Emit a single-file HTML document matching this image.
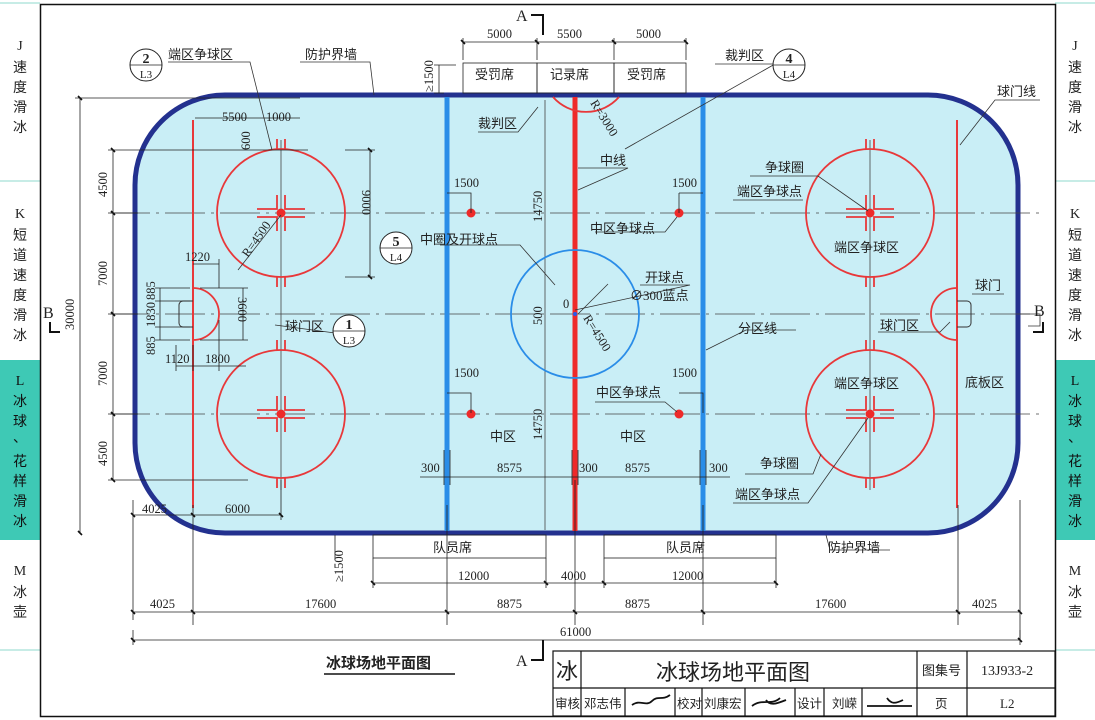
<!DOCTYPE html>
<html><head><meta charset="utf-8"><style>
html,body{margin:0;padding:0;background:#fff;}
svg{display:block;}
text{font-family:"Liberation Serif","Noto Sans CJK SC",serif;fill:#222;}
.c{font-family:"Liberation Sans","Noto Sans CJK SC",sans-serif;font-size:13px;}
.d{font-size:12.5px;}
.side{font-family:"Liberation Sans","Noto Sans CJK SC",sans-serif;font-size:14px;fill:#4cc6b4;text-anchor:middle;}
</style></head><body>
<svg width="1095" height="720" viewBox="0 0 1095 720" xmlns="http://www.w3.org/2000/svg">
<!-- sidebars -->
<g stroke="#8fd8cc" stroke-width="1">
<line x1="0" y1="3" x2="40" y2="3"/><line x1="0" y1="181" x2="40" y2="181"/><line x1="0" y1="650" x2="40" y2="650"/>
<line x1="1055" y1="3" x2="1095" y2="3"/><line x1="1055" y1="181" x2="1095" y2="181"/><line x1="1055" y1="650" x2="1095" y2="650"/>
</g>
<rect x="0" y="360" width="40" height="180" fill="#3ec9b5"/>
<rect x="1055" y="360" width="40" height="180" fill="#3ec9b5"/>
<g class="side">
<text x="20" y="50">J</text><text x="20" y="72">速</text><text x="20" y="92">度</text><text x="20" y="112">滑</text><text x="20" y="132">冰</text>
<text x="20" y="218">K</text><text x="20" y="240">短</text><text x="20" y="260">道</text><text x="20" y="280">速</text><text x="20" y="300">度</text><text x="20" y="320">滑</text><text x="20" y="340">冰</text>
<text x="20" y="385" style="fill:#111">L</text><text x="20" y="406" style="fill:#111">冰</text><text x="20" y="426" style="fill:#111">球</text><text x="20" y="442" style="fill:#111">、</text><text x="20" y="466" style="fill:#111">花</text><text x="20" y="486" style="fill:#111">样</text><text x="20" y="506" style="fill:#111">滑</text><text x="20" y="526" style="fill:#111">冰</text>
<text x="20" y="575">M</text><text x="20" y="597">冰</text><text x="20" y="617">壶</text>
<text x="1075" y="50">J</text><text x="1075" y="72">速</text><text x="1075" y="92">度</text><text x="1075" y="112">滑</text><text x="1075" y="132">冰</text>
<text x="1075" y="218">K</text><text x="1075" y="240">短</text><text x="1075" y="260">道</text><text x="1075" y="280">速</text><text x="1075" y="300">度</text><text x="1075" y="320">滑</text><text x="1075" y="340">冰</text>
<text x="1075" y="385" style="fill:#111">L</text><text x="1075" y="406" style="fill:#111">冰</text><text x="1075" y="426" style="fill:#111">球</text><text x="1075" y="442" style="fill:#111">、</text><text x="1075" y="466" style="fill:#111">花</text><text x="1075" y="486" style="fill:#111">样</text><text x="1075" y="506" style="fill:#111">滑</text><text x="1075" y="526" style="fill:#111">冰</text>
<text x="1075" y="575">M</text><text x="1075" y="597">冰</text><text x="1075" y="617">壶</text>
</g>
<!-- frame -->
<rect x="40.5" y="4.5" width="1015" height="712" fill="none" stroke="#111" stroke-width="1.5"/>

<!-- rink -->
<rect x="135" y="95" width="883" height="438" rx="90" ry="90" fill="#c9eef6" stroke="#23318f" stroke-width="5"/>

<!-- center/axis lines -->
<g stroke="#444" stroke-width="0.8" fill="none">
<line x1="110" y1="314" x2="1040" y2="314" stroke-dasharray="40 6 3 6"/>
<line x1="110" y1="213" x2="1040" y2="213" stroke-dasharray="40 6 3 6"/>
<line x1="110" y1="414" x2="1040" y2="414" stroke-dasharray="40 6 3 6"/>
<line x1="281" y1="140" x2="281" y2="490"/>
<line x1="870" y1="140" x2="870" y2="490"/>
<line x1="545" y1="100" x2="545" y2="530"/>
</g>

<!-- goal lines -->
<g stroke="#e8383a" stroke-width="2">
<line x1="193" y1="120" x2="193" y2="508"/>
<line x1="957" y1="120" x2="957" y2="508"/>
</g>
<!-- blue & red lines -->
<line x1="447" y1="97" x2="447" y2="531" stroke="#2a8de8" stroke-width="5"/>
<line x1="703" y1="97" x2="703" y2="531" stroke="#2a8de8" stroke-width="5"/>
<line x1="575" y1="97" x2="575" y2="531" stroke="#ee2a2a" stroke-width="5"/>

<!-- faceoff circles -->
<g fill="none" stroke="#e8383a" stroke-width="1.8">
<circle cx="281" cy="213" r="64"/><circle cx="281" cy="414" r="64"/>
<circle cx="870" cy="213" r="64"/><circle cx="870" cy="414" r="64"/>
<path d="M553 97 A44 44 0 0 0 619 97"/>
<!-- hash marks -->
<path d="M277 149v-10M285 149v-10M277 277v10M285 277v10M277 350v-10M285 350v-10M277 478v10M285 478v10"/>
<path d="M866 149v-10M874 149v-10M866 277v10M874 277v10M866 350v-10M874 350v-10M866 478v10M874 478v10"/>
<!-- L marks -->
<g id="lm">
<path d="M257 209h20v-14M257 217h20v14M305 209h-20v-14M305 217h-20v14"/>
</g>
<path d="M257 410h20v-14M257 418h20v14M305 410h-20v-14M305 418h-20v14"/>
<path d="M846 209h20v-14M846 217h20v14M894 209h-20v-14M894 217h-20v14"/>
<path d="M846 410h20v-14M846 418h20v14M894 410h-20v-14M894 418h-20v14"/>
<!-- creases -->
<path d="M193 288 A26 26 0 0 1 193 340"/>
<path d="M957 288 A26 26 0 0 0 957 340"/>
</g>
<g fill="#ee2a2a">
<circle cx="281" cy="213" r="4.5"/><circle cx="281" cy="414" r="4.5"/><circle cx="870" cy="213" r="4.5"/><circle cx="870" cy="414" r="4.5"/>
<circle cx="471" cy="213" r="4.5"/><circle cx="679" cy="213" r="4.5"/><circle cx="471" cy="414" r="4.5"/><circle cx="679" cy="414" r="4.5"/>
</g>
<circle cx="575" cy="314" r="64" fill="none" stroke="#2a8de8" stroke-width="1.8"/>
<circle cx="575" cy="314" r="2" fill="#2a5ae8"/>
<!-- goals -->
<path d="M193 301h-10a4 4 0 0 0 -4 4v18a4 4 0 0 0 4 4h10" fill="none" stroke="#333" stroke-width="1"/>
<path d="M957 301h10a4 4 0 0 1 4 4v18a4 4 0 0 1 -4 4h-10" fill="none" stroke="#333" stroke-width="1"/>

<!-- dimension lines -->
<g stroke="#222" stroke-width="0.8" fill="none">
<!-- left -->
<line x1="80" y1="98" x2="80" y2="533"/><line x1="75" y1="98" x2="300" y2="98"/>
<line x1="113" y1="150" x2="113" y2="480"/>
<path d="M108 150h200M108 213h30M108 314h30M108 414h30M108 480h140"/>
<line x1="195" y1="118" x2="300" y2="118"/>
<line x1="370" y1="150" x2="370" y2="277"/><path d="M345 150h30M345 277h30"/>
<line x1="160" y1="288" x2="160" y2="340"/><path d="M155 288h35M155 301h35M155 327h35M155 340h35"/>
<line x1="243" y1="288" x2="243" y2="340"/><path d="M200 288h48M200 340h48"/>
<line x1="176" y1="366" x2="246" y2="366"/><path d="M176 345v26M193 345v26M219 320v51"/>
<line x1="193" y1="264" x2="219" y2="264"/><path d="M219 259v29"/>
<!-- bottom -->
<line x1="133" y1="515" x2="193" y2="515"/><line x1="193" y1="515" x2="281" y2="515"/>
<path d="M133 500v120M281 480v40M193 505v120M447 505v120M575 480v145M703 505v120M958 505v120M1020 500v140"/>
<line x1="133" y1="612" x2="1020" y2="612"/>
<line x1="133" y1="640" x2="1020" y2="640"/><path d="M133 630v15M1020 630v15"/>
<line x1="373" y1="583" x2="776" y2="583"/><path d="M373 558v30M546 558v30M604 558v30M776 558v30"/>
<rect x="373" y="535" width="173" height="23"/><rect x="604" y="535" width="172" height="23"/>
<line x1="420" y1="477" x2="730" y2="477"/>
<path d="M444 450v35M450 450v35M572 450v35M578 450v35M700 450v35M706 450v35"/>
<!-- top -->
<rect x="463" y="63" width="74" height="30"/><rect x="537" y="63" width="77" height="30"/><rect x="614" y="63" width="72" height="30"/>
<line x1="463" y1="42" x2="686" y2="42"/><path d="M463 38v22M537 38v22M614 38v22M686 38v22"/>
<line x1="439" y1="65" x2="439" y2="93"/><path d="M434 65h22M434 93h10"/>
<!-- 1500 -->
<path d="M447 193h24v20M679 193h24M679 193v20M447 393h24v20M679 393h24v20"/>
<line x1="335" y1="535" x2="335" y2="560"/>
</g>
<!-- tick marks -->
<g stroke="#111" stroke-width="1.6">
<path d="M78 96l4 4M78 531l4 4M111 148l4 4M111 211l4 4M111 312l4 4M111 412l4 4M111 478l4 4"/>
<path d="M131 610l4 4M191 610l4 4M445 610l4 4M573 610l4 4M701 610l4 4M956 610l4 4M1018 610l4 4M131 638l4 4M1018 638l4 4"/>
<path d="M371 581l4 4M544 581l4 4M602 581l4 4M774 581l4 4M461 40l4 4M535 40l4 4M612 40l4 4M684 40l4 4"/>
<path d="M368 148l4 4M368 275l4 4M131 513l4 4M191 513l4 4M279 513l4 4"/>
</g>

<!-- leader lines -->
<g stroke="#333" stroke-width="0.8" fill="none">
<path d="M168 62h82l22 88"/><path d="M300 62h70l4 33"/><path d="M715 64h60l-150 85"/>
<path d="M478 132h40l20 -25"/><path d="M578 168h50l-50 22"/>
<path d="M440 245h80l35 40"/><path d="M640 285h50l-115 25"/>
<path d="M595 232h70l12 -15"/><path d="M595 402h70l12 10"/>
<path d="M706 350l40 -20h50"/><path d="M960 145l35 -45h45"/>
<path d="M750 176h68l50 35"/><path d="M733 200h70"/>
<path d="M745 474h68l8 -20"/><path d="M733 503h75l60 -85"/>
<path d="M878 332h62l10 -10"/><path d="M972 294h32"/>
<path d="M826 535l4 15h60"/><path d="M275 325l60 8"/>
<path d="M238 270l43 -55"/><path d="M578 314l30 -30"/>
<path d="M1020 314h20v12h-12"/>
</g>

<!-- labels -->
<g class="c">
<text x="168" y="59">端区争球区</text><text x="305" y="59">防护界墙</text>
<text x="475" y="79">受罚席</text><text x="550" y="79">记录席</text><text x="627" y="79">受罚席</text>
<text x="725" y="60">裁判区</text><text x="478" y="128">裁判区</text><text x="600" y="165">中线</text>
<text x="997" y="96">球门线</text>
<text x="765" y="172">争球圈</text><text x="737" y="196">端区争球点</text>
<text x="834" y="252">端区争球区</text><text x="834" y="388">端区争球区</text>
<text x="590" y="233">中区争球点</text><text x="596" y="397">中区争球点</text>
<text x="420" y="244">中圈及开球点</text><text x="645" y="282">开球点</text><text x="630" y="300">∅300蓝点</text>
<text x="738" y="333">分区线</text><text x="975" y="290">球门</text><text x="880" y="330">球门区</text>
<text x="965" y="387">底板区</text><text x="285" y="331">球门区</text>
<text x="760" y="468">争球圈</text><text x="735" y="499">端区争球点</text>
<text x="490" y="441">中区</text><text x="620" y="441">中区</text>
<text x="433" y="552">队员席</text><text x="666" y="552">队员席</text>
<text x="828" y="552">防护界墙</text>
<text x="326" y="668" style="font-size:15px;font-weight:bold;">冰球场地平面图</text>
</g>
<line x1="324" y1="674" x2="455" y2="674" stroke="#111" stroke-width="1.5"/>

<g class="d">
<text x="487" y="38">5000</text><text x="557" y="38">5500</text><text x="636" y="38">5000</text>
<text x="222" y="121">5500</text><text x="266" y="121">1000</text>
<text x="454" y="187">1500</text><text x="672" y="187">1500</text>
<text x="454" y="377">1500</text><text x="672" y="377">1500</text>
<text x="185" y="261">1220</text><text x="165" y="363">1120</text><text x="205" y="363">1800</text>
<text x="421" y="472">300</text><text x="497" y="472">8575</text><text x="579" y="472">300</text><text x="625" y="472">8575</text><text x="709" y="472">300</text>
<text x="142" y="513">4025</text><text x="225" y="513">6000</text>
<text x="458" y="580">12000</text><text x="561" y="580">4000</text><text x="672" y="580">12000</text>
<text x="150" y="608">4025</text><text x="305" y="608">17600</text><text x="497" y="608">8875</text><text x="625" y="608">8875</text><text x="815" y="608">17600</text><text x="972" y="608">4025</text>
<text x="560" y="636">61000</text>
<text x="563" y="308">0</text>
<text transform="translate(74,330) rotate(-90)">30000</text>
<text transform="translate(107,197) rotate(-90)">4500</text>
<text transform="translate(107,286) rotate(-90)">7000</text>
<text transform="translate(107,386) rotate(-90)">7000</text>
<text transform="translate(107,466) rotate(-90)">4500</text>
<text transform="translate(362,190) rotate(90)">9000</text>
<text transform="translate(250,150) rotate(-90)">600</text>
<text transform="translate(155,300) rotate(-90)">885</text>
<text transform="translate(155,327) rotate(-90)">1830</text>
<text transform="translate(155,355) rotate(-90)">885</text>
<text transform="translate(238,297) rotate(90)">3600</text>
<text transform="translate(542,222) rotate(-90)">14750</text>
<text transform="translate(542,440) rotate(-90)">14750</text>
<text transform="translate(542,325) rotate(-90)">500</text>
<text transform="translate(433,92) rotate(-90)">≥1500</text>
<text transform="translate(343,582) rotate(-90)">≥1500</text>
<text transform="translate(248,258) rotate(-55)">R=4500</text>
<text transform="translate(583,318) rotate(58)">R=4500</text>
<text transform="translate(590,103) rotate(58)">R=3000</text>
</g>

<!-- callout circles -->
<g fill="#fff" stroke="#222" stroke-width="1">
<circle cx="146" cy="65" r="16"/><circle cx="789" cy="65" r="16"/><circle cx="396" cy="248" r="16"/><circle cx="349" cy="331" r="16"/>
</g>
<g stroke="#222" stroke-width="0.8"><path d="M130 65h32M773 65h32M380 248h32M333 331h32"/></g>
<g style="font-family:'Liberation Sans',sans-serif;text-anchor:middle;">
<text x="146" y="63" font-size="14" font-weight="bold">2</text><text x="146" y="78" font-size="11">L3</text>
<text x="789" y="63" font-size="14" font-weight="bold">4</text><text x="789" y="78" font-size="11">L4</text>
<text x="396" y="246" font-size="14" font-weight="bold">5</text><text x="396" y="261" font-size="11">L4</text>
<text x="349" y="329" font-size="14" font-weight="bold">1</text><text x="349" y="344" font-size="11">L3</text>
</g>

<!-- section markers -->
<g style="font-family:'Liberation Sans',sans-serif;font-size:16px;">
<text x="516" y="21">A</text><text x="516" y="666">A</text><text x="43" y="318">B</text><text x="1034" y="316">B</text>
</g>
<g stroke="#111" stroke-width="2" fill="none">
<path d="M531 15h12v20"/><path d="M531 660h12v-20"/><path d="M50 322v10h10"/><path d="M1043 322v10h-10"/>
</g>

<!-- title block -->
<g stroke="#111" stroke-width="1.2" fill="none">
<rect x="553" y="651" width="502" height="65"/>
<path d="M553 688h502M581 651v65M917 651v65M967 651v65"/>
<path d="M625 688v28M675 688v28M702 688v28M745 688v28M795 688v28M824 688v28M862 688v28"/>
</g>
<g style="font-family:'Liberation Sans','Noto Sans CJK SC',sans-serif;">
<text x="556" y="679" font-size="22">冰</text>
<text x="656" y="680" font-size="22">冰球场地平面图</text>
<text x="922" y="675" font-size="13">图集号</text>
<text x="981" y="675" font-size="14" style="font-family:'Liberation Serif',serif">13J933-2</text>
<g font-size="12.5"><text x="555" y="708">审核</text><text x="584" y="708">邓志伟</text><text x="677" y="708">校对</text><text x="704" y="708">刘康宏</text><text x="797" y="708">设计</text><text x="832" y="708">刘嵘</text><text x="935" y="708">页</text></g>
<text x="1000" y="708" font-size="13" style="font-family:'Liberation Serif',serif">L2</text>
</g>
<g stroke="#111" stroke-width="1.8" fill="none">
<path d="M632 705c8-6 14 2 20-4s10 0 18-6"/><path d="M752 706c10-8 20 0 28-8m-14 2c4 6 10 4 20 0"/><path d="M867 706h45m-25-8c4 6 8 6 16 2"/>
</g>
</svg>
</body></html>
